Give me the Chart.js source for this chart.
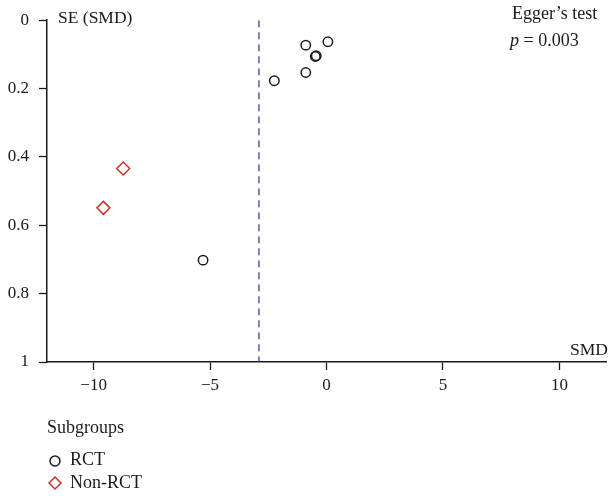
<!DOCTYPE html>
<html><head><meta charset="utf-8">
<script src="https://cdn.jsdelivr.net/npm/chart.js@4"></script>
<style>html,body{margin:0;padding:0;background:#fff}#wrap{width:614px;height:498px}</style>
</head><body><div id="wrap"><canvas id="c" width="614" height="498"></canvas></div>
<script>
const rctSMD = [-0.89, 0.06, -0.44, -0.48, -0.89, -2.24, -5.3];
const rctSE  = [0.073, 0.063, 0.104, 0.106, 0.153, 0.177, 0.702];
const nonSMD = [-8.73, -9.58];
const nonSE  = [0.434, 0.549];
const pooledSMD = -2.9;
const xTicks = [-10, -5, 0, 5, 10];
const yTicks = [0, 0.2, 0.4, 0.6, 0.8, 1];
const FONT = "'Liberation Serif', 'DejaVu Serif', serif";
const toPts = (xs, ys) => xs.map((x, i) => ({x, y: ys[i]}));

const overlay = {
  id: 'overlay',
  afterDraw(chart) {
    const ctx = chart.ctx;
    ctx.save();
    ctx.fillStyle = '#1a1a1a';
    ctx.textBaseline = 'middle';
    ctx.font = '17.5px ' + FONT;
    ctx.textAlign = 'left';
    ctx.fillText('SE (SMD)', 58, 18);
    ctx.textAlign = 'right';
    ctx.fillText('SMD', 608, 350);
    ctx.textAlign = 'left';
    ctx.font = '18px ' + FONT;
    ctx.fillText('Egger\u2019s test', 512, 14);
    ctx.font = 'italic 18px ' + FONT;
    ctx.fillText('p', 510, 41);
    ctx.font = '18px ' + FONT;
    ctx.fillText(' = 0.003', 519, 41);
    // legend
    ctx.fillText('Subgroups', 47, 428);
    ctx.fillText('RCT', 70, 460);
    ctx.fillText('Non-RCT', 70, 483);
    ctx.strokeStyle = '#1a1a1a'; ctx.lineWidth = 1.5;
    ctx.beginPath(); ctx.arc(55, 461, 5, 0, Math.PI * 2); ctx.stroke();
    ctx.strokeStyle = '#c8342c';
    ctx.beginPath(); ctx.moveTo(55, 477); ctx.lineTo(61, 483); ctx.lineTo(55, 489); ctx.lineTo(49, 483); ctx.closePath(); ctx.stroke();
    ctx.restore();
  }
};

new Chart(document.getElementById('c'), {
  type: 'scatter',
  data: {
    datasets: [
      { label: 'Pooled', type: 'line', data: [{x: pooledSMD, y: 0}, {x: pooledSMD, y: 1}],
        borderColor: '#3b3f9a', borderWidth: 1.3, borderDash: [7, 5], pointRadius: 0, fill: false },
      { label: 'RCT', data: toPts(rctSMD, rctSE), pointStyle: 'circle', pointRadius: 4.7,
        borderColor: '#1a1a1a', backgroundColor: 'rgba(0,0,0,0)', pointBorderWidth: 1.5 },
      { label: 'Non-RCT', data: toPts(nonSMD, nonSE), pointStyle: 'rectRot', pointRadius: 6.5,
        borderColor: '#c8342c', backgroundColor: 'rgba(0,0,0,0)', pointBorderWidth: 1.5 }
    ]
  },
  options: {
    responsive: false, animation: false,
    layout: { padding: { top: 20, right: 6, left: 0, bottom: 0 } },
    plugins: { legend: { display: false }, tooltip: { enabled: false } },
    scales: {
      x: {
        type: 'linear', min: -12, max: 12,
        afterBuildTicks: s => { s.ticks = xTicks.map(v => ({value: v})); },
        afterFit: s => { s.height = 136; },
        grid: { drawOnChartArea: false, drawTicks: true, tickLength: 8, color: '#1a1a1a', tickWidth: 1.3 },
        border: { color: '#1a1a1a', width: 1.5 },
        ticks: { color: '#1a1a1a', font: { family: FONT, size: 17 }, padding: 5,
                 callback: v => (v < 0 ? '\u2212' + Math.abs(v) : String(v)) }
      },
      y: {
        type: 'linear', min: 0, max: 1, reverse: true,
        afterBuildTicks: s => { s.ticks = yTicks.map(v => ({value: v})); },
        afterFit: s => { s.width = 47; },
        grid: { drawOnChartArea: false, drawTicks: true, tickLength: 8, color: '#1a1a1a', tickWidth: 1.3 },
        border: { color: '#1a1a1a', width: 1.5 },
        ticks: { color: '#1a1a1a', font: { family: FONT, size: 17 }, padding: 10,
                 callback: v => String(Math.round(v * 10) / 10) }
      }
    }
  },
  plugins: [overlay]
});
</script></body></html>
